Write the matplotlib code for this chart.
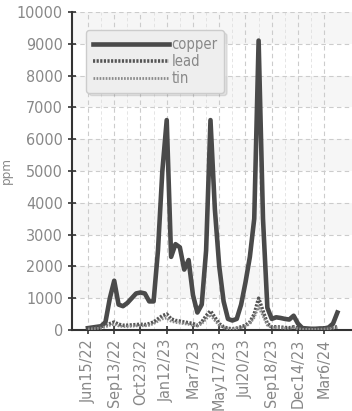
import matplotlib.pyplot as plt
import numpy as np

plt.rcParams['font.family'] = ['DejaVu Sans']
plt.rcParams['font.stretch'] = 'condensed'

# tick labels (every 6th sample)
tick_labels = ["Jun15/22", "Sep13/22", "Oct23/22", "Jan12/23", "Mar7/23",
               "May17/23", "Jul20/23", "Sep18/23", "Dec14/23", "Mar6/24"]

copper = [60, 80, 100, 120, 250, 1000, 1550, 800, 750, 850,
          1000, 1150, 1180, 1150, 900, 900, 2500, 5000, 6600, 2300,
          2700, 2600, 1900, 2200, 1100, 550, 800, 2500, 6600, 3800,
          2000, 900, 350, 300, 350, 800, 1500, 2300, 3500, 9100,
          3500, 700, 350, 400, 380, 350, 330, 450, 200, 60,
          50, 40, 40, 50, 50, 80, 200, 550]
lead = [50, 60, 80, 100, 150, 200, 250, 180, 150, 150,
        160, 170, 180, 170, 200, 250, 350, 450, 500, 350,
        300, 280, 250, 230, 200, 150, 250, 450, 600, 400,
        200, 100, 50, 40, 60, 100, 150, 250, 500, 1000,
        600, 200, 100, 100, 90, 80, 70, 100, 50, 30,
        30, 30, 30, 30, 40, 50, 80, 100]
tin = [30, 40, 50, 60, 100, 150, 180, 130, 110, 110,
       120, 130, 140, 130, 150, 200, 280, 350, 380, 280,
       240, 220, 200, 180, 150, 120, 200, 350, 480, 300,
       150, 80, 40, 30, 50, 80, 120, 200, 400, 750,
       450, 150, 80, 80, 70, 60, 60, 80, 40, 20,
       20, 20, 20, 20, 30, 40, 60, 80]

x = np.arange(len(copper))
tick_pos = np.arange(len(tick_labels)) * 6

fig = plt.figure(figsize=(3.52, 4.11), dpi=100)
ax = fig.add_axes([0.2045, 0.197, 0.795, 0.774])

# alternating background bands
for lo in range(1000, 10000, 2000):
    ax.axhspan(lo, lo + 1000, color='#f6f6f6', zorder=0, lw=0)

ax.plot(x, copper, color='#4a4a4a', lw=3.3, label='copper', zorder=3)
ax.plot(x, lead, color='#555555', lw=2.6, ls=(0, (0.6, 0.4)), label='lead', zorder=4)
ax.plot(x, tin, color='#8a8a8a', lw=2.0, ls=(0, (0.6, 0.5)), label='tin', zorder=5)

ax.set_xlim(-3.65, 60.3)
ax.set_ylim(0, 10000)
ax.set_yticks(range(0, 10001, 1000))
ax.set_xticks(tick_pos)
ax.set_xticklabels(tick_labels, rotation=90)
ax.set_xticks(tick_pos[:-1] + 3, minor=True)

ax.grid(True, which='major', color='#cccccc', ls=(0, (4, 3)), lw=0.8)
ax.grid(True, which='minor', axis='x', color='#e0e0e0', ls=(0, (4, 3)), lw=0.6)
ax.set_axisbelow(True)

for s in ['top', 'right']:
    ax.spines[s].set_visible(False)
for s in ['left', 'bottom']:
    ax.spines[s].set_color('#333333')
    ax.spines[s].set_linewidth(1.5)

ax.tick_params(axis='both', which='major', direction='inout', length=6, width=1.2,
               color='#333333', labelcolor='#888888', labelsize=11.5)
ax.tick_params(axis='x', which='minor', length=0)
ax.set_ylabel('ppm', color='#888888', fontsize=9.5, labelpad=3)

leg = ax.legend(loc='upper left', bbox_to_anchor=(0.025, 0.965), handlelength=5.2,
                fontsize=10.5, fancybox=True, shadow={'alpha': 0.12}, framealpha=1,
                facecolor='#eeeeee', edgecolor='#cccccc', labelspacing=0.15,
                handletextpad=0.2, borderpad=0.45)
for t in leg.get_texts():
    t.set_color('#888888')

fig.savefig('out.png', dpi=100)
